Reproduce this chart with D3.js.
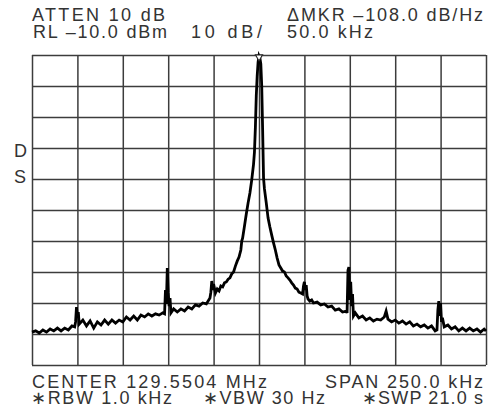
<!DOCTYPE html>
<html>
<head>
<meta charset="utf-8">
<title>Spectrum Analyzer Trace</title>
<script src="https://d3js.org/d3.v7.min.js"></script>
<style>
  body { margin: 0; background: #fff; }
  text { font-family: "Liberation Sans", Arial, sans-serif; fill: #333; }
</style>
</head>
<body>
<svg id="screen"></svg>
<script>

// analyzer settings shown round the screen
var headerLines = [
  {text: "ATTEN 10 dB",          x: 32,  y: 21,  w: 133},
  {text: "\u0394MKR \u2013108.0 dB/Hz", x: 287, y: 21, w: 196},
  {text: "RL \u201310.0 dBm",    x: 33,  y: 38,  w: 134},
  {text: "10 dB/",               x: 191, y: 38,  w: 71},
  {text: "50.0 kHz",             x: 287, y: 38,  w: 86}
];
var footerLines = [
  {text: "CENTER 129.5504 MHz",  x: 32,  y: 388, w: 235},
  {text: "SPAN 250.0 kHz",       x: 325, y: 388, w: 158},
  {text: "\u2217RBW 1.0 kHz",    x: 31,  y: 404, w: 141},
  {text: "\u2217VBW 30 Hz",      x: 203, y: 404, w: 122},
  {text: "\u2217SWP 21.0 s",     x: 362, y: 404, w: 121}
];

// screen scale: 10 dB/div from RL, 25 kHz/div round the centre
var refLevel = -10, dbPerDiv = 10, vDivs = 10;
var spanKHz = 250, hDivs = 10;

// measured trace: [offset from centre (kHz), level (dBm)]
var trace = [
  [-125,-99.4],[-123,-99.0],[-121,-99.7],[-119,-98.7],[-117,-99.4],[-115,-98.4],
  [-113,-99.0],[-111,-98.1],[-109,-99.0],[-107,-98.1],[-105,-98.7],[-103,-97.4],
  [-101.5,-97.7],[-101,-96.1],[-100.5,-91.3],[-100,-94.8],[-99.5,-92.9],[-99,-96.8],
  [-97,-95.5],[-95,-97.4],[-93,-95.8],[-91,-98.1],[-89,-96.1],[-87,-97.1],
  [-85,-95.5],[-83,-96.8],[-81,-95.5],[-79,-96.5],[-77,-95.5],[-75,-96.1],
  [-73,-94.5],[-71,-95.5],[-69,-94.2],[-67,-95.5],[-65,-93.9],[-63,-94.5],
  [-61,-93.5],[-59,-94.2],[-57,-93.5],[-55,-93.9],[-53,-93.2],[-52,-93.5],
  [-51.5,-85.8],[-51,-90.3],[-50.5,-78.7],[-50,-86.5],[-49.5,-91.0],[-49,-88.4],
  [-48.5,-93.2],[-47,-91.9],[-45,-92.9],[-43,-91.9],[-41,-92.6],[-39,-91.3],
  [-37,-91.9],[-35,-90.6],[-33,-91.0],[-31,-90.0],[-29,-90.3],[-27,-88.4],
  [-26.5,-86.5],[-26,-82.9],[-25.5,-85.8],[-25,-83.9],[-24,-86.8],[-23,-85.5],
  [-22,-86.1],[-21,-84.5],[-20,-84.8],[-19,-83.5],[-18,-83.2],[-17,-82.3],
  [-16,-81.9],[-15,-80.6],[-14,-80.0],[-13,-78.1],[-12,-76.5],[-11,-75.2],
  [-10,-72.9],[-9.5,-70.0],[-9,-69.0],[-8,-65.2],[-7,-61.3],[-6,-57.7],
  [-5,-54.5],[-4,-50.3],[-3,-45.2],[-2.5,-41.3],[-2,-33.5],[-1.5,-23.2],
  [-1,-16.8],[-0.5,-12.3],[0,-10.3],[0.5,-11.0],[1,-12.9],[1.5,-20.0],
  [2,-34.2],[2.5,-49.7],[3,-53.2],[4,-57.7],[5,-62.6],[6,-65.5],
  [7,-68.1],[8,-70.6],[9,-72.9],[10,-75.5],[11,-77.7],[12,-78.7],
  [13,-79.7],[14,-80.0],[15,-81.3],[16,-81.9],[17,-82.6],[18,-83.5],
  [19,-84.2],[20,-85.2],[21,-85.5],[22,-86.5],[23,-86.8],[24,-87.1],
  [24.5,-84.5],[25,-83.2],[25.5,-85.8],[26,-84.2],[26.5,-87.7],[27,-88.7],
  [28,-89.4],[29,-89.0],[30,-90.0],[32,-89.7],[34,-90.6],[36,-90.3],
  [38,-91.3],[40,-91.0],[42,-92.3],[44,-91.9],[46,-92.9],[48,-92.6],
  [48.5,-93.2],[49,-79.4],[49.5,-78.4],[50,-89.0],[50.5,-83.2],[51,-91.0],
  [51.5,-87.1],[52,-94.2],[53,-93.2],[55,-94.8],[57,-94.2],[59,-95.5],
  [61,-94.8],[63,-95.8],[65,-95.2],[67,-95.5],[69,-94.5],[70,-92.6],
  [71,-95.2],[73,-96.1],[75,-95.5],[77,-96.5],[79,-95.8],[81,-96.8],
  [83,-96.1],[85,-97.4],[87,-96.8],[89,-97.7],[91,-97.1],[93,-98.1],
  [95,-97.4],[97,-99.0],[98,-98.7],[98.5,-92.3],[99,-89.4],[99.5,-94.2],
  [100,-90.0],[100.5,-96.1],[101,-94.8],[102,-97.7],[104,-97.1],[106,-98.4],
  [108,-97.7],[110,-99.0],[112,-98.1],[114,-99.0],[116,-98.1],[118,-99.0],
  [120,-98.4],[122,-99.4],[124,-98.4],[125,-99.0]
];

var W = 501, H = 419;
var box = {left: 32, right: 486, top: 55, bottom: 365};

var svg = d3.select("#screen").attr("width", W).attr("height", H);

var x = d3.scaleLinear().domain([-spanKHz / 2, spanKHz / 2]).range([box.left, box.right]);
var y = d3.scaleLinear().domain([refLevel - vDivs * dbPerDiv, refLevel]).range([box.bottom, box.top]);

var freqTicks = d3.range(hDivs + 1).map(function(i) { return -spanKHz / 2 + i * spanKHz / hDivs; });
var levelTicks = d3.range(vDivs + 1).map(function(i) { return refLevel - i * dbPerDiv; });

// graticule drawn from the axes, labels switched off
var gx = svg.append("g")
  .attr("transform", "translate(0," + box.bottom + ")")
  .call(d3.axisBottom(x).tickValues(freqTicks).tickSize(-(box.bottom - box.top)).tickFormat(""));
var gy = svg.append("g")
  .attr("transform", "translate(" + box.left + ",0)")
  .call(d3.axisLeft(y).tickValues(levelTicks).tickSize(-(box.right - box.left)).tickFormat(""));
[gx, gy].forEach(function(g) {
  g.select(".domain").remove();
  g.selectAll("line").attr("stroke", "#3c3c3c").attr("stroke-width", 1.5);
});

// the trace
var line = d3.line()
  .x(function(d) { return x(d[0]); })
  .y(function(d) { return y(d[1]); });
svg.append("path")
  .datum(trace)
  .attr("d", line)
  .attr("fill", "none")
  .attr("stroke", "#000")
  .attr("stroke-width", 2.8)
  .attr("stroke-linejoin", "miter");

// marker on the peak
var peak = trace.reduce(function(a, b) { return b[1] > a[1] ? b : a; });
var mx = x(peak[0]), my = y(peak[1]);
svg.append("path")
  .attr("d", "M" + (mx - 3.5) + "," + (my - 1) + "L" + (mx + 3.5) + "," + (my - 1) + "L" + mx + "," + (my + 5) + "Z")
  .attr("fill", "#fff")
  .attr("stroke", "#222")
  .attr("stroke-width", 1.2);

// annotations, spread to the analyzer's character pitch
function putText(d) {
  svg.append("text")
    .attr("x", d.x).attr("y", d.y)
    .attr("textLength", d.w)
    .attr("lengthAdjust", "spacing")
    .style("font-size", "18px")
    .text(d.text);
}
headerLines.forEach(putText);
footerLines.forEach(putText);

svg.append("text").attr("x", 14).attr("y", 157).style("font-size", "18px").text("D");
svg.append("text").attr("x", 14).attr("y", 183).style("font-size", "18px").text("S");

</script>
</body>
</html>
